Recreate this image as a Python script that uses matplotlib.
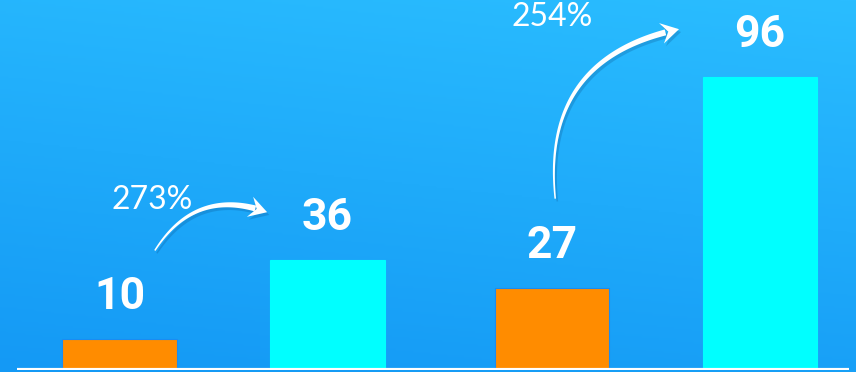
import numpy as np
import matplotlib.pyplot as plt
import matplotlib.patheffects as pe
from matplotlib.colors import LinearSegmentedColormap
from matplotlib.patches import Polygon
from matplotlib.transforms import IdentityTransform

# values per group: before / after, and growth text
before = [10, 27]
after = [36, 96]
growth = ["273%", "254%"]

W, H = 856, 372
fig = plt.figure(figsize=(W / 100, H / 100), dpi=100)

# blue gradient backdrop, lighter towards top right
bg = fig.add_axes([0, 0, 1, 1])
yy, xx = np.mgrid[0:1:200j, 0:1:400j]
shade = 0.8 * yy + 0.2 * xx
cmap = LinearSegmentedColormap.from_list("bg", ["#1499f5", "#2abdff"])
bg.imshow(shade, cmap=cmap, origin="lower", aspect="auto", extent=[0, 1, 0, 1])
bg.set_axis_off()

# bar axes on top
ax = fig.add_axes([0, 2 / H, 1, 1 - 2 / H])
ax.patch.set_alpha(0)
pos = [0, 1, 2.08, 3.08]
vals = [before[0], after[0], before[1], after[1]]
colors = ["#ff8c00", "#00ffff", "#ff8c00", "#00ffff"]
edges = ["#1a8cf2", "#00ffff", "#1a8cf2", "#00ffff"]
ax.bar(pos, vals, width=0.55, color=colors, edgecolor=edges, linewidth=0.8, zorder=2)
ax.set_xlim(-0.5745, 3.541)
ax.set_ylim(0, 121.3)
ax.set_axis_off()
ax.axhline(0, xmin=17 / W, xmax=849 / W, color="white", lw=3, zorder=3,
           solid_capstyle="butt")

label_off = 42  # px from bar top to label centre
for x, v in zip(pos, vals):
    ax.annotate(str(v), (x, v), xytext=(0, label_off * 0.72), textcoords="offset points",
                ha="center", va="center", color="white", fontsize=32,
                fontweight="bold", family=["Roboto", "DejaVu Sans"])


def to_px(x, v, dy):
    # display coords of a data point, shifted up by dy pixels
    px, py = ax.transData.transform((x, v))
    return np.array([px, py + dy])


def curved_arrow(p0, p2, bend, w0=1.5, w1=6, head_len=15, head_w=21):
    d = p2 - p0
    p1 = (p0 + p2) / 2 + bend * np.array([d[1], -d[0]])
    t = np.linspace(0, 1, 120)[:, None]
    pts = (1 - t) ** 2 * p0 + 2 * (1 - t) * t * p1 + t ** 2 * p2
    dist = np.linalg.norm(pts - p2, axis=1)
    keep = dist >= head_len * 0.8
    shaft = pts[keep]
    tang = np.gradient(shaft, axis=0)
    tang /= np.linalg.norm(tang, axis=1)[:, None]
    nrm = np.column_stack([-tang[:, 1], tang[:, 0]])
    w = np.linspace(w0, w1, len(shaft))[:, None] / 2
    body = np.vstack([shaft + nrm * w, (shaft - nrm * w)[::-1]])
    # head: swept-back arrowhead along final tangent
    u = p2 - shaft[-1]
    u /= np.linalg.norm(u)
    n = np.array([-u[1], u[0]])
    base = p2 - u * head_len
    head = np.array([p2, base + n * head_w / 2 - u * 3, base + u * 4,
                     base - n * head_w / 2 - u * 3])
    fx = [pe.SimplePatchShadow(offset=(1.5, -2), alpha=0.25, shadow_rgbFace="#0b4f8a"),
          pe.Normal()]
    for shape in (body, head):
        poly = Polygon(shape, closed=True, facecolor="white", edgecolor="none",
                       transform=IdentityTransform(), zorder=4)
        poly.set_path_effects(fx)
        fig.patches.append(poly)


fig.canvas.draw()
start_x = [0.17, 2.095]
end_x = [0.71, 2.69]
bends = [-0.4, -0.45]
for i in range(2):
    p0 = to_px(start_x[i], before[i], label_off + 47)
    p2 = to_px(end_x[i], after[i], label_off + 6)
    curved_arrow(p0, p2, bends[i])
    tx = p0[0] - 3
    ty = p2[1] + 12
    fig.text(tx / W, ty / H, growth[i], ha="center", va="center", color="white",
             fontsize=23, fontweight="normal", family=["Lato", "DejaVu Sans"])

fig.savefig("out.png", dpi=100)
